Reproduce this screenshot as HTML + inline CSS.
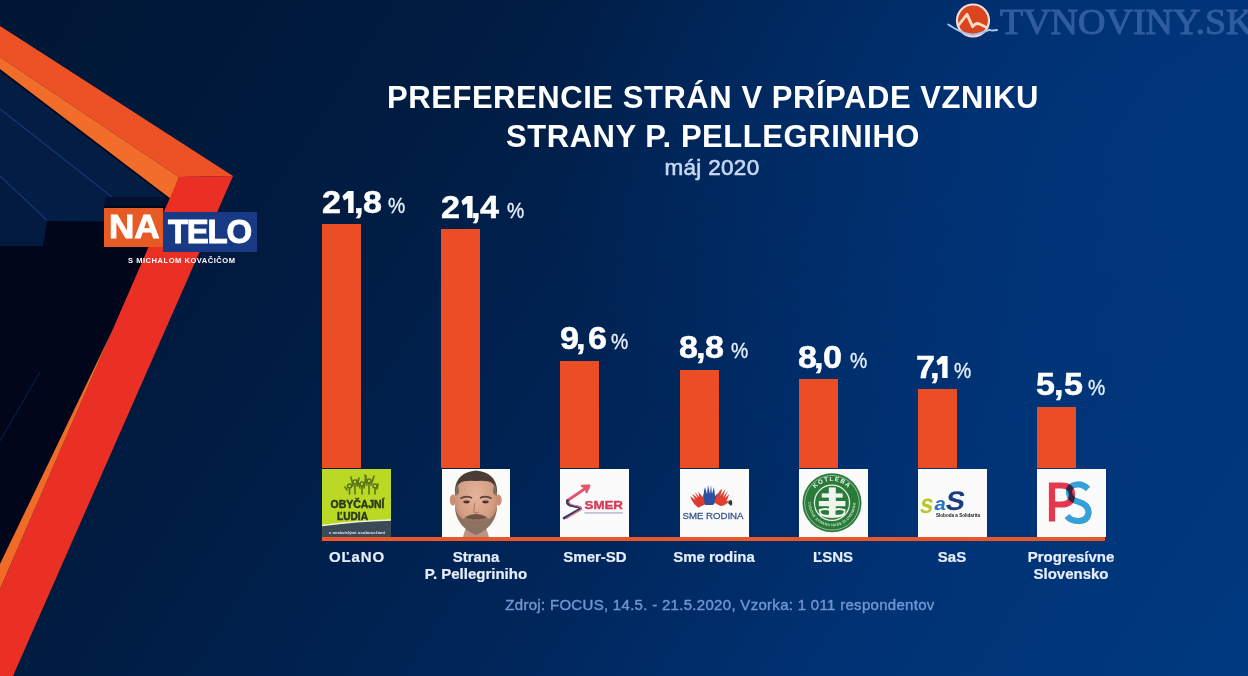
<!DOCTYPE html>
<html><head><meta charset="utf-8">
<style>
html,body{margin:0;padding:0;}
body{width:1248px;height:676px;overflow:hidden;position:relative;font-family:"Liberation Sans",sans-serif;background:#002050;}
#wrap{position:absolute;left:0;top:0;width:1248px;height:676px;overflow:hidden;filter:blur(0.7px);background:radial-gradient(ellipse 700px 500px at 1248px 150px,rgba(0,54,124,1) 0%,rgba(0,54,124,0.6) 40%,rgba(0,54,124,0) 100%),linear-gradient(123deg,#001634 0%,#001c42 30%,#00265a 55%,#003274 75%,#003a80 100%);}
.abs{position:absolute;}
.bar{position:absolute;width:39px;background:#eb4e24;}
.box{position:absolute;width:69px;height:69px;top:468px;background:#fff;overflow:hidden;}
.g{position:absolute;color:#fff;font-weight:bold;font-size:31px;line-height:31px;transform:scaleX(1.1);transform-origin:0 0;-webkit-text-stroke:0.5px #fff;}
.g1{transform:scaleX(0.75);}
.pct{position:absolute;color:#e8f0ff;font-size:22px;line-height:31px;transform:scaleX(0.88);transform-origin:0 0;-webkit-text-stroke:0.35px #e8f0ff;}
.lbl{position:absolute;width:160px;text-align:center;color:#e6eefc;font-weight:bold;font-size:15px;line-height:17px;-webkit-text-stroke:0.2px #e6eefc;}
</style></head><body><div id="wrap">

<!-- left decoration -->
<svg class="abs" style="left:0;top:0" width="300" height="676" viewBox="0 0 300 676">
  <polygon points="0,69 171,199 169,206 104,206 104,221.5 47,221 43,246 0,246" fill="#041d45"/>
  <polygon points="0,176 47,221 43,246 0,246" fill="#031b40"/>
  <polygon points="106,197 168,197 171,199 169,206 104,206" fill="#02122e"/>
  <polygon points="0,246 43,246 47,221 104,221.5 104,206 169,206 179,177 0,589" fill="#01061a"/>
  <line x1="0" y1="109" x2="112" y2="197" stroke="#123a72" stroke-width="1.1"/>
  <line x1="0" y1="176" x2="47" y2="220.5" stroke="#123a72" stroke-width="1.1"/>
  <line x1="0" y1="70" x2="171" y2="200" stroke="#02081a" stroke-width="2"/>
  <polygon points="0,26 233,176 179,177 0,57" fill="#ec5226"/>
  <polygon points="0,57 179,177 171,199 0,69" fill="#f26c2a"/>
  <polygon points="179,177 233,176 13,676 0,676 0,589" fill="#ea3025"/>
  <polygon points="113,329 0,564 0,589" fill="#f06a28"/>
  <line x1="0" y1="441" x2="40" y2="372" stroke="#0a2550" stroke-width="1"/>
</svg>

<!-- NA TELO logo -->
<div class="abs" style="left:104px;top:207.5px;width:59px;height:39px;background:#e85a24;"></div>
<div class="abs" style="left:163px;top:212px;width:93.5px;height:40px;background:#183a84;"></div>
<div class="abs" style="left:108.5px;top:209px;color:#fff;font-weight:bold;font-size:32.5px;line-height:36px;transform:scaleX(1.08);transform-origin:0 0;-webkit-text-stroke:0.9px #fff;">NA</div>
<div class="abs" style="left:168px;top:214px;color:#fff;font-weight:bold;font-size:33px;line-height:36px;letter-spacing:-1.3px;-webkit-text-stroke:0.9px #fff;">TELO</div>
<div class="abs" style="left:128px;top:257px;color:#fff;font-weight:bold;font-size:7.5px;line-height:8px;letter-spacing:0.55px;white-space:nowrap;">S MICHALOM KOVAČIČOM</div>

<!-- TVNOVINY logo -->
<svg class="abs" style="left:944px;top:0px" width="60" height="42" viewBox="0 0 60 42">
  <circle cx="29" cy="20.5" r="16" fill="#d9451f" stroke="#f4dcd8" stroke-width="2.2"/>
  <path d="M14.3,25.5 L23,14.3 L28.6,26.7 Q32,22 36,24.2 L42.2,27.3" fill="none" stroke="#f8dcc4" stroke-width="2.8" stroke-linejoin="round" stroke-linecap="round"/>
  <path d="M4.3,24.5 Q14,31 22,33.5 Q29,36 37,33 Q42,31 45.3,29.8 Q48,31 53,30" fill="none" stroke="#a8c4f0" stroke-width="2" stroke-linecap="round"/>
</svg>
<div class="abs" style="left:1000px;top:3px;color:#305ca0;font-family:'Liberation Serif',serif;font-size:35px;line-height:40px;white-space:nowrap;transform:scaleX(1.085);transform-origin:0 0;-webkit-text-stroke:1px #305ca0;filter:blur(0.6px);">TVNOVINY.SK</div>

<!-- title -->
<div class="abs" style="left:0;top:78px;width:1426px;text-align:center;color:#fff;font-weight:bold;font-size:31px;line-height:39px;letter-spacing:0.55px;white-space:nowrap;">PREFERENCIE STRÁN V PRÍPADE VZNIKU<br>STRANY P. PELLEGRINIHO</div>
<div class="abs" style="left:0;top:155px;width:1424px;text-align:center;color:#c8d8f6;font-size:22.5px;line-height:26px;letter-spacing:0.3px;-webkit-text-stroke:0.6px #c8d8f6;">máj 2020</div>

<!-- bars -->
<div class="bar" style="left:322px;top:224px;height:244px;"></div>
<div class="bar" style="left:441px;top:229px;height:239px;"></div>
<div class="bar" style="left:560px;top:361px;height:107px;"></div>
<div class="bar" style="left:680px;top:370px;height:98px;"></div>
<div class="bar" style="left:799px;top:379px;height:89px;"></div>
<div class="bar" style="left:918px;top:389px;height:79px;"></div>
<div class="bar" style="left:1037px;top:407px;height:61px;"></div>

<!-- numbers -->
<span class="g" style="left:322.2px;top:187.2px">2</span><svg class="abs" style="left:341.8px;top:191.2px" width="12" height="22" viewBox="0 0 12 22"><path d="M5.8,0 H11.6 V22 H6.2 V7.2 L2,9.6 L0.4,5 Z" fill="#fff"/></svg><span class="g" style="left:353.5px;top:187.2px">,</span><span class="g" style="left:362.8px;top:187.2px">8</span><span class="pct" style="left:388.4px;top:190.2px">%</span>
<span class="g" style="left:441.1px;top:191.8px">2</span><svg class="abs" style="left:460.5px;top:195.8px" width="12" height="22" viewBox="0 0 12 22"><path d="M5.8,0 H11.6 V22 H6.2 V7.2 L2,9.6 L0.4,5 Z" fill="#fff"/></svg><span class="g" style="left:471.3px;top:191.8px">,</span><span class="g" style="left:479.8px;top:191.8px">4</span><span class="pct" style="left:507.4px;top:194.8px">%</span>
<span class="g" style="left:560.2px;top:323.0px">9</span><span class="g" style="left:576.3px;top:323.0px">,</span><span class="g" style="left:588.3px;top:323.0px">6</span><span class="pct" style="left:611.0px;top:326.0px">%</span>
<span class="g" style="left:678.9px;top:332.0px">8</span><span class="g" style="left:696.3px;top:332.0px">,</span><span class="g" style="left:705.3px;top:332.0px">8</span><span class="pct" style="left:731.1px;top:335.0px">%</span>
<span class="g" style="left:797.5px;top:341.7px">8</span><span class="g" style="left:814.1px;top:341.7px">,</span><span class="g" style="left:823.1px;top:341.7px">0</span><span class="pct" style="left:849.7px;top:344.7px">%</span>
<span class="g" style="left:916.0px;top:351.5px">7</span><span class="g" style="left:930.2px;top:351.5px">,</span><svg class="abs" style="left:936.4px;top:355.5px" width="12" height="22" viewBox="0 0 12 22"><path d="M5.8,0 H11.6 V22 H6.2 V7.2 L2,9.6 L0.4,5 Z" fill="#fff"/></svg><span class="pct" style="left:954.3px;top:354.5px">%</span>
<span class="g" style="left:1036.3px;top:369.4px">5</span><span class="g" style="left:1053.9px;top:369.4px">,</span><span class="g" style="left:1064.2px;top:369.4px">5</span><span class="pct" style="left:1087.8px;top:372.4px">%</span>

<!-- logo boxes -->
<svg class="abs" style="left:322px;top:469px" width="69" height="68" viewBox="0 1 69 68">
  <rect x="0" y="0" width="69" height="69" fill="#bad824"/>
  <path d="M0,57.5 Q35,53 69,52 L69,69 L0,69 Z" fill="#3b4a57"/>
  <path d="M0,57.5 Q35,53 69,52" fill="none" stroke="#eef4d8" stroke-width="1.4"/>
  <text x="35" y="65.5" text-anchor="middle" font-family="Liberation Sans" font-weight="bold" font-size="4.3" fill="#dfe6ee">s nezávislými osobnosťami</text>
  <text x="35.5" y="39.8" text-anchor="middle" font-family="Liberation Sans" font-weight="bold" font-size="11.6" fill="#2b3a16" stroke="#2b3a16" stroke-width="0.5" textLength="54" lengthAdjust="spacingAndGlyphs">OBYČAJNÍ</text>
  <text x="30.5" y="51.6" text-anchor="middle" font-family="Liberation Sans" font-weight="bold" font-size="11.6" fill="#2b3a16" stroke="#2b3a16" stroke-width="0.5" textLength="31" lengthAdjust="spacingAndGlyphs">ĽUDIA</text>
  <g fill="none" stroke="#5a7418" stroke-width="1.6" stroke-linecap="round">
    <circle cx="27.5" cy="18" r="2"/><path d="M27.5,20 V26 M25,22 L23,19"/>
    <circle cx="33" cy="14" r="2"/><path d="M33,16 V26 M31,18 L29,9 M35,18 L37,10"/>
    <circle cx="40" cy="16" r="2"/><path d="M40,18 V26 M38,20 L35,12 M42,20 L44,8"/>
    <circle cx="47" cy="13" r="2"/><path d="M47,15 V26 M45,17 L43,7 M49,17 L52,8"/>
    <circle cx="53" cy="18" r="2"/><path d="M53,20 V26 M55,21 L56,16"/>
  </g>
</svg>
<svg class="abs" style="left:442px;top:469px" width="68" height="68" viewBox="0 0 68 68">
  <rect width="68" height="68" fill="#fbfbfa"/>
  <defs><filter id="bl" x="-20%" y="-20%" width="140%" height="140%"><feGaussianBlur stdDeviation="0.7"/></filter>
  <radialGradient id="sk" cx="50%" cy="40%" r="60%"><stop offset="0" stop-color="#e4b49a"/><stop offset="0.7" stop-color="#d39d82"/><stop offset="1" stop-color="#b98068"/></radialGradient></defs>
  <g filter="url(#bl)">
  <path d="M21,68 Q23,60 25,57 L43,57 Q45,61 47,68 Z" fill="#b99484"/>
  <ellipse cx="11" cy="31" rx="3.2" ry="5.5" fill="#c98e74"/>
  <ellipse cx="56.5" cy="31" rx="3.2" ry="5.5" fill="#c98e74"/>
  <path d="M14,20 Q14,3 34,2 Q54,3 54,20 L55,38 Q55,56 34,65 Q13,56 13,38 Z" fill="url(#sk)"/>
  <path d="M13,27 Q11,4 34,1.5 Q57,4 55,27 Q54,17 50,14 Q46,11 34,12 Q22,11 18,14 Q14,17 13,27 Z" fill="#4a3e36"/>
  <path d="M13,27 Q13,18 16,14 L17,24 Z M55,27 Q55,18 52,14 L51,24 Z" fill="#7a6c62"/>
  <path d="M13,37 Q14,58 34,66 Q54,58 55,37 Q53,47 47,50 Q42,46 34,47 Q26,46 21,50 Q15,47 13,37 Z" fill="#7e6a5c" opacity="0.8"/>
  <path d="M23,48 Q34,42 45,48 Q41,51 34,50 Q27,51 23,48 Z" fill="#6c5244"/>
  <path d="M27,53 Q34,55 41,53" stroke="#9a6858" stroke-width="1.4" fill="none"/>
  <path d="M18.5,29.5 q6,-3.5 11.5,-0.5 M38,29 q6,-3 11.5,0.5" stroke="#5a4236" stroke-width="1.8" fill="none"/>
  <ellipse cx="24.5" cy="33" rx="3.2" ry="1.4" fill="#4a3430"/>
  <ellipse cx="43.5" cy="33" rx="3.2" ry="1.4" fill="#4a3430"/>
  <path d="M33,34 Q31.5,41 32,43 Q34,45 37,43" stroke="#b07a62" stroke-width="1.1" fill="none"/>
  </g>
</svg>
<svg class="abs" style="left:560px;top:469px" width="69" height="68" viewBox="0 1 69 68">
  <rect width="69" height="69" fill="#fbfbfb"/>
  <g fill="none" stroke-linecap="round" stroke-linejoin="round">
    <path d="M7.5,32.5 L26,20" stroke="#e0566e" stroke-width="2.8"/>
    <path d="M22,18 L29.3,17.7 L26.5,24" stroke="#e0566e" stroke-width="2.4" fill="#e0566e"/>
    <path d="M7.5,32.5 Q6,37 13,38 Q22,39.5 20.4,41 L4,50.2" stroke="#3a3d60" stroke-width="2.6"/>
    <path d="M9.5,33.5 Q9,36.5 14,37.2 Q22.5,38.5 21,41.5 L6.5,50.5" stroke="#e8788a" stroke-width="1.1"/>
  </g>
  <text x="24.5" y="40.8" font-family="Liberation Sans" font-weight="bold" font-size="10.5" fill="#d63c5a" stroke="#d63c5a" stroke-width="0.35" textLength="38.5" lengthAdjust="spacingAndGlyphs">SMER</text>
  <rect x="24.5" y="44.3" width="38.5" height="1.2" fill="#a6abbd"/>
</svg>
<svg class="abs" style="left:680px;top:469px" width="69" height="68" viewBox="0 1 69 68">
  <rect width="69" height="69" fill="#fbfbfb"/>
  <g transform="translate(19,32) rotate(-35)"><path d="M-5,6 Q-7,0 -6,-5 L-5,-8 L-3,-2 L-2,-9 L0,-2 L1,-9 L2,-2 L4,-7 L5,0 L7,-3 Q7,4 2,7 Z" fill="#dd3a30"/></g>
  <g transform="translate(30,29)"><path d="M-5,8 Q-7,0 -6,-6 L-5,-10 L-3,-3 L-2,-12 L0,-3 L1,-12 L2,-3 L4,-10 L5,-1 L8,-4 Q7,5 3,8 Z" fill="#2c4fa0"/></g>
  <g transform="translate(42,31) rotate(30)"><path d="M-5,7 Q-7,0 -6,-6 L-5,-9 L-3,-2 L-2,-10 L0,-2 L1,-10 L2,-2 L4,-8 L5,0 L7,-3 Q7,4 2,7 Z" fill="#e0402e"/></g>
  <path d="M48,35 q2,-5 4,-2 q1,3 -1,5 z" fill="#333"/>
  <text x="33" y="51" text-anchor="middle" font-family="Liberation Sans" font-size="9.5" fill="#3d5a8c" stroke="#3d5a8c" stroke-width="0.3" textLength="61" lengthAdjust="spacingAndGlyphs">SME RODINA</text>
</svg>
<svg class="abs" style="left:799px;top:469px" width="69" height="68" viewBox="0 1 69 68">
  <rect width="69" height="69" fill="#fbfbfb"/>
  <defs><path id="arcT" d="M11,34.8 A22,22 0 0 1 55,34.8"/><path id="arcB" d="M9.5,34.8 A23.5,23.5 0 0 0 56.5,34.8"/></defs>
  <circle cx="33" cy="34.8" r="29.5" fill="#2a7a3a"/>
  <circle cx="33" cy="34.8" r="27.3" fill="none" stroke="#d8e8d8" stroke-width="0.6"/>
  <circle cx="33" cy="34.8" r="17.6" fill="none" stroke="#e8f0e8" stroke-width="1.3"/>
  <text font-family="Liberation Sans" font-weight="bold" font-size="6.2" fill="#eef4ee"><textPath href="#arcT" startOffset="50%" text-anchor="middle" letter-spacing="1.2">KOTLEBA</textPath></text>
  <text font-family="Liberation Sans" font-weight="bold" font-size="3.6" fill="#cfe2cf"><textPath href="#arcB" startOffset="50%" text-anchor="middle" letter-spacing="0.3">ĽUDOVÁ STRANA NAŠE SLOVENSKO</textPath></text>
  <g fill="#eef4ee">
    <rect x="29.8" y="19.4" width="7" height="26"/>
    <rect x="22.7" y="25.4" width="21" height="4.2"/>
    <rect x="19.8" y="33" width="26.6" height="5.2"/>
    <path d="M19.5,41.5 Q26,38.5 33.3,41.5 Q40,38.5 46.8,41.5 L45.5,47.5 Q33.3,52.5 21,47.5 Z"/>
  </g>
  <path d="M21.5,43 Q26,41 30,42.8 L30,46.5 Q25.5,47.2 22.5,45.5 Z M36.5,42.8 Q41,41 45,43 L44,45.5 Q41,47.2 36.5,46.5 Z" fill="#2a7a3a"/>
</svg>
<svg class="abs" style="left:918px;top:469px" width="69" height="68" viewBox="0 1 69 68">
  <rect width="69" height="69" fill="#fbfbfb"/>
  <g transform="translate(0,0) skewX(-10)">
  <text x="9" y="45" font-family="Liberation Sans" font-weight="bold" font-size="27" fill="#b4c82c" textLength="13" lengthAdjust="spacingAndGlyphs">s</text>
  <text x="23" y="42.5" font-family="Liberation Sans" font-weight="bold" font-size="18.5" fill="#2a76c0" textLength="11.5" lengthAdjust="spacingAndGlyphs">a</text>
  <text x="34" y="42.5" font-family="Liberation Sans" font-weight="bold" font-size="27" fill="#1c3d80" textLength="19" lengthAdjust="spacingAndGlyphs">S</text>
  </g>
  <text x="18" y="49.3" font-family="Liberation Sans" font-weight="bold" font-size="4.6" fill="#1a1a1a" textLength="44" lengthAdjust="spacingAndGlyphs">Sloboda a Solidarita</text>
</svg>
<svg class="abs" style="left:1037px;top:469px" width="69" height="68" viewBox="0 1 69 68">
  <rect width="69" height="69" fill="#fbfbfb"/>
  <path d="M15,53.5 V17.5 H24.5 Q35,17.5 35,27 Q35,36.5 24.5,36.5 H15" fill="none" stroke="#e4384f" stroke-width="6.2"/>
  <path d="M51,21 Q46,16 40,16.5 Q31,17.5 32,25 Q33,32 42,34 Q52,37 51.5,45 Q50.5,53 41,53 Q34,53 30,48" fill="none" stroke="#38a3dc" stroke-width="6.2" style="mix-blend-mode:multiply"/>
</svg>

<!-- baseline -->
<div class="abs" style="left:322px;top:537px;width:783px;height:4px;background:#e8582a;"></div>

<!-- labels -->
<div class="lbl" style="left:277px;top:548px;letter-spacing:0.9px;">OĽaNO</div>
<div class="lbl" style="left:396px;top:548px;">Strana<br>P. Pellegriniho</div>
<div class="lbl" style="left:515px;top:548px;">Smer-SD</div>
<div class="lbl" style="left:634px;top:548px;">Sme rodina</div>
<div class="lbl" style="left:753px;top:548px;">ĽSNS</div>
<div class="lbl" style="left:872px;top:548px;">SaS</div>
<div class="lbl" style="left:991px;top:548px;">Progresívne<br>Slovensko</div>

<!-- source -->
<div class="abs" style="left:0;top:596px;width:1440px;text-align:center;color:#7196d2;font-size:15px;line-height:18px;letter-spacing:0.3px;-webkit-text-stroke:0.4px #7196d2;white-space:nowrap;">Zdroj: FOCUS, 14.5. - 21.5.2020, Vzorka: 1 011 respondentov</div>

</div></body></html>
